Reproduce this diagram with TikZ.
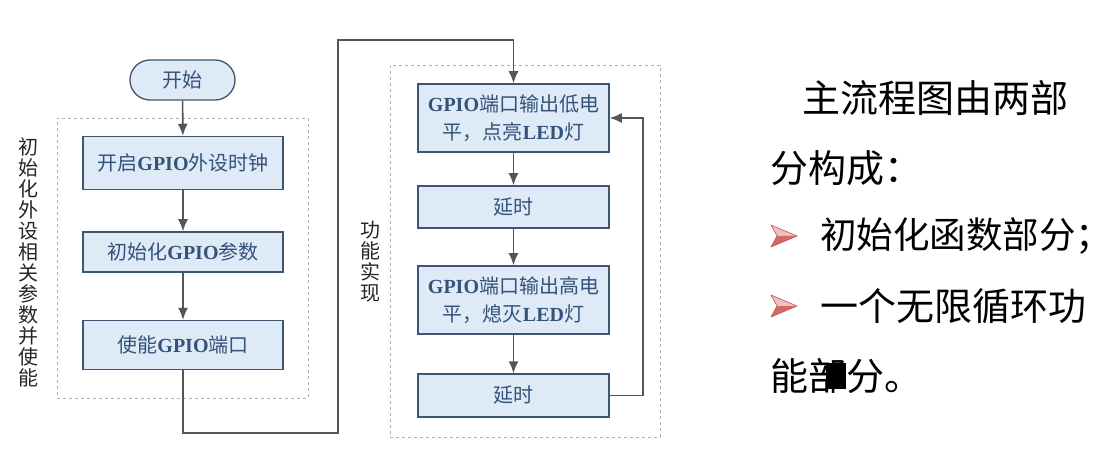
\documentclass[tikz,border=0pt]{standalone}
\usepackage{fontspec}
\setmainfont{Liberation Serif}
\newfontfamily\cjk{Noto Sans CJK SC}
\usetikzlibrary{arrows.meta,calc}
\definecolor{boxfill}{RGB}{222,234,246}
\definecolor{boxline}{RGB}{62,86,116}
\definecolor{boxtext}{RGB}{52,82,122}
\definecolor{lineg}{RGB}{85,85,85}
\definecolor{dashg}{RGB}{175,175,175}
\definecolor{mkred}{RGB}{200,80,80}
\newcommand{\gp}[1]{{\rmfamily\bfseries #1}}
\tikzset{
  proc/.style={draw=boxline, line width=1.5pt, fill=boxfill, text=boxtext,
    font=\cjk\fontsize{20}{28}\selectfont, align=center, inner sep=0pt},
  startbox/.style={proc, rounded corners=20pt, line width=1.3pt},
  grp/.style={draw=dashg, dashed, line width=0.8pt, inner sep=0pt},
  arr/.style={draw=lineg, line width=1.6pt, -{Latex[length=12pt,width=10pt]}},
  vlab/.style={font=\cjk\fontsize{20}{21}\selectfont, text=black!85, align=center, inner sep=0pt},
  rtext/.style={font=\cjk\fontsize{38}{38}\selectfont, text=black, anchor=west, inner sep=0pt},
}
\begin{document}
\begin{tikzpicture}[x=1pt,y=-1pt]
\useasboundingbox[fill=white] (0,0) rectangle (1114,457);
% group frames
\node[grp, minimum width=251pt, minimum height=280pt] (g1) at (182.5,258) {};
\node[grp, minimum width=270pt, minimum height=372pt] (g2) at (525,251) {};
% left column
\node[startbox, minimum width=105pt, minimum height=40pt] (st) at (182.5,80) {开始};
\node[proc, minimum width=200pt, minimum height=53pt] (b1) at (183,163) {开启\gp{GPIO}外设时钟};
\node[proc, minimum width=200pt, minimum height=40pt] (b2) at (183,252) {初始化\gp{GPIO}参数};
\node[proc, minimum width=200pt, minimum height=49pt] (b3) at (183,345) {使能\gp{GPIO}端口};
% right column
\node[proc, minimum width=191pt, minimum height=68pt] (b4) at (513.5,118) {\gp{GPIO}端口输出低电\\平，点亮\gp{LED}灯};
\node[proc, minimum width=191pt, minimum height=42pt] (b5) at (513.5,207) {延时};
\node[proc, minimum width=191pt, minimum height=68pt] (b6) at (513.5,300) {\gp{GPIO}端口输出高电\\平，熄灭\gp{LED}灯};
\node[proc, minimum width=191pt, minimum height=43pt] (b7) at (513.5,395.5) {延时};
% labels
\node[vlab] (l1) at (28,262) {初\\始\\化\\外\\设\\相\\关\\参\\数\\并\\使\\能};
\node[vlab] (l2) at (370,262) {功\\能\\实\\现};
% connectors
\coordinate (k1) at (338,433);
\coordinate (k2) at (338,40);
\coordinate (k3) at (643,0);
\draw[arr] (st) -- (b1);
\draw[arr] (b1) -- (b2);
\draw[arr] (b2) -- (b3);
\draw[arr] (b3.south) |- (k1) -- (k2) -| (b4.north);
\draw[arr] (b4) -- (b5);
\draw[arr] (b5) -- (b6);
\draw[arr] (b6) -- (b7);
\draw[arr] (b7.east) -- (b7.east -| k3) -- (b4.east -| k3) -- (b4.east);
% right text
\node[rtext] (t1) at (802,98) {主流程图由两部};
\node[rtext] (t2) at (770,168) {分构成：};
\node[rtext, font=\cjk\fontsize{36.5}{36.5}\selectfont] (t3) at (820,236) {初始化函数部分；};
\node[rtext] (t4) at (820,306) {一个无限循环功};
\node[rtext] (t5) at (770,376) {能部分。};
% bullet markers
\foreach \yy in {236,306}{
  \fill[mkred!35] (771,\yy-11) -- (797,\yy) -- (777,\yy) -- cycle;
  \fill[mkred!85] (777,\yy) -- (797,\yy) -- (771,\yy+11) -- cycle;
  \draw[mkred, line width=0.6pt, line join=round] (771,\yy-11) -- (797,\yy) -- (771,\yy+11) -- (777,\yy) -- cycle;
}
% blot
\fill[black] (826,363) rectangle (846,389);
\end{tikzpicture}
\end{document}
